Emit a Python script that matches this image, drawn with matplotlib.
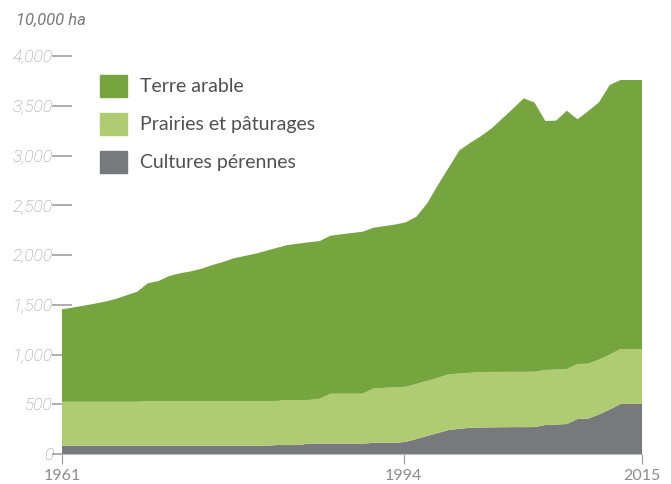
import matplotlib
matplotlib.use("Agg")
import matplotlib.pyplot as plt
import matplotlib.patches as mpatches
import numpy as np

# years and areas (10,000 ha)
years = np.arange(1961, 2016)

terre_arable = [929, 947, 965, 985, 1006, 1033, 1070, 1106, 1183, 1206,
                1256, 1283, 1303, 1329, 1366, 1397, 1434, 1457, 1480, 1509,
                1539, 1557, 1571, 1585, 1584, 1588, 1602, 1615, 1628, 1614,
                1625, 1636, 1652, 1681, 1784, 1938, 2076, 2243, 2310, 2370,
                2448, 2547, 2646, 2749, 2704, 2503, 2501, 2596, 2460, 2539,
                2586, 2710, 2704, 2704, 2704]

prairies = [442, 442, 442, 442, 442, 442, 442, 442, 450, 450,
            450, 450, 450, 450, 450, 450, 450, 450, 450, 450,
            443, 453, 453, 438, 451, 501, 501, 501, 501, 548,
            553, 558, 554, 553, 554, 555, 560, 556, 552, 558,
            557, 556, 556, 556, 556, 553, 553, 553, 552, 553,
            551, 552, 552, 552, 552]

cultures_perennes = [83, 83, 83, 83, 83, 83, 83, 83, 83, 83,
                     83, 83, 83, 83, 83, 83, 83, 83, 83, 83,
                     90, 90, 90, 105, 105, 105, 105, 105, 105, 112,
                     112, 112, 122, 151, 181, 211, 241, 253, 264, 266,
                     268, 269, 270, 270, 271, 291, 296, 301, 352, 355,
                     398, 447, 503, 503, 503]

labels = ['Terre arable', 'Prairies et pâturages', 'Cultures pérennes']
colors = ['#76A540', '#B0CC72', '#78797D']

y_ticks = [0, 500, 1000, 1500, 2000, 2500, 3000, 3500, 4000]
y_labels = ['0', '500', '1,000', '1,500', '2,000', '2,500', '3,000', '3,500', '4,000']
x_ticks = [1961, 1992.8, 2015]
x_labels = ['1961', '1994', '2015']

W, H = 671, 484
fig = plt.figure(figsize=(W / 100, H / 100), dpi=100)
ax = fig.add_axes([62 / W, 1 - 454 / H, 580 / W, 398 / H])

# stacked from the bottom: perennial, pasture, arable
ax.stackplot(years, cultures_perennes, prairies, terre_arable,
             colors=colors[::-1], linewidth=0)

ax.set_xlim(1961, 2015)
ax.set_ylim(0, 4000)
ax.set_axisbelow(True)

for s in ['top', 'right', 'left']:
    ax.spines[s].set_visible(False)
ax.spines['bottom'].set_color('#BFBFBF')
ax.spines['bottom'].set_linewidth(0.8)

ax.set_yticks(y_ticks)
ax.set_yticklabels(y_labels, family='Roboto', weight='light', style='italic',
                   fontsize=12.5, color='#969696')
ax.tick_params(axis='y', direction='inout', length=15, width=1.4, color='#ADADAD', pad=-1)

ax.set_xticks(x_ticks)
ax.set_xticklabels(x_labels, family='Lato', fontsize=11.5, color='#8C8C8C')
ax.tick_params(axis='x', direction='out', length=7, width=0.9, color='#A0A0A0', pad=4)

fig.text(16 / W, 1 - 20 / H, '10,000 ha', family='Roboto', style='italic',
         fontsize=12, color='#7A7A7A', va='center', ha='left')

handles = [mpatches.Patch(color=colors[i], label=labels[i]) for i in range(3)]
ax.legend(handles=handles, loc='upper left', bbox_to_anchor=(100 / W, 1 - 75 / H),
          bbox_transform=fig.transFigure, frameon=False, prop={'family': 'Lato', 'size': 14},
          borderpad=0, borderaxespad=0, handlelength=1.4, handleheight=1.33,
          handletextpad=0.65, labelspacing=0.85, labelcolor='#505050')

fig.savefig('out.png', dpi=100)
